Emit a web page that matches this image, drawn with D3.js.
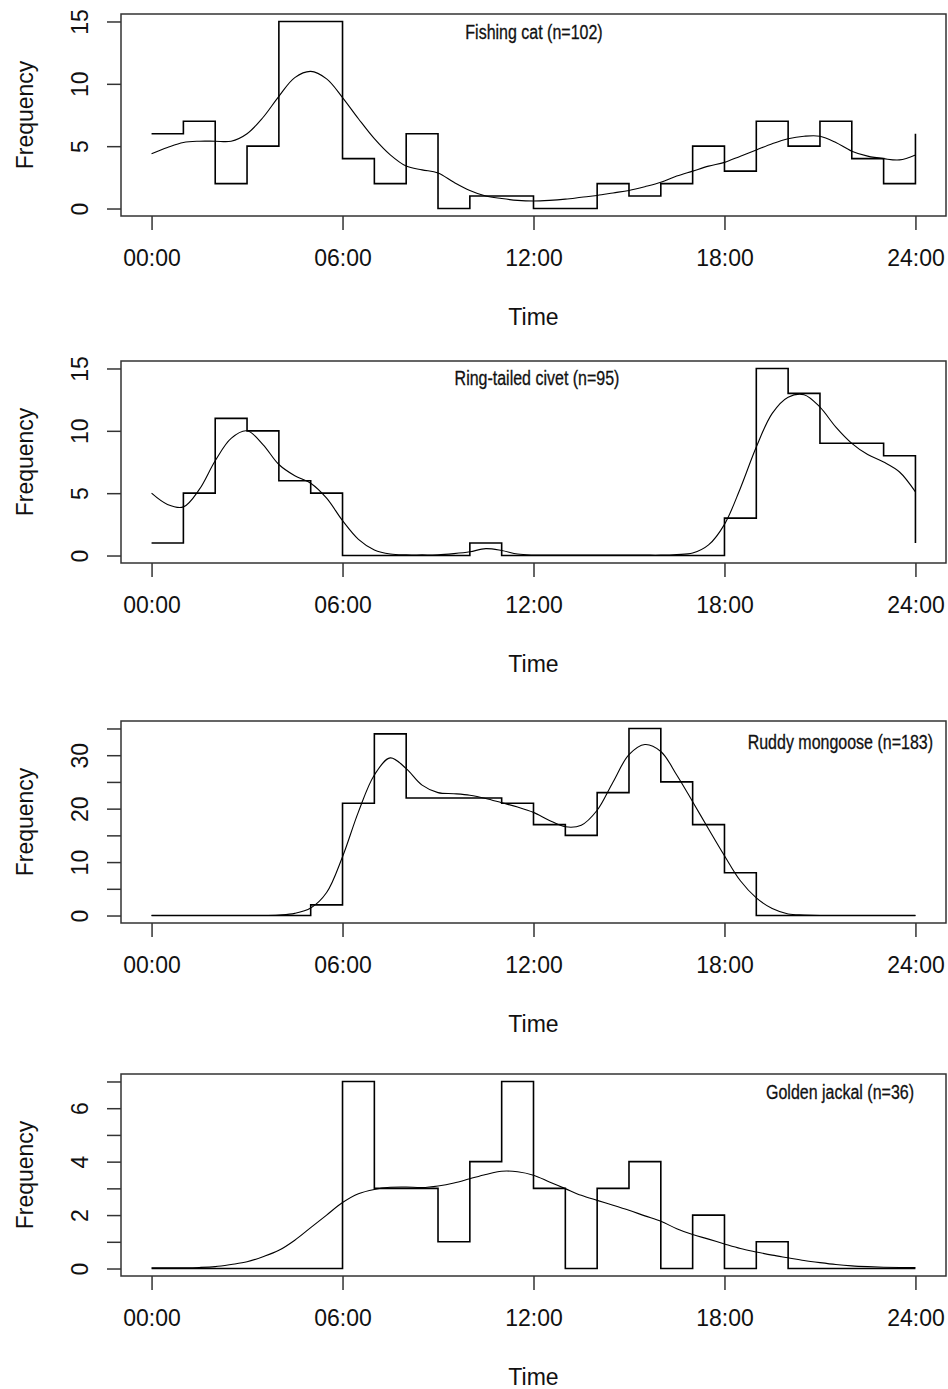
<!DOCTYPE html>
<html>
<head>
<meta charset="utf-8">
<script src="https://cdn.jsdelivr.net/npm/d3@7"></script>
<style>
  body { margin:0; background:#fff; }
  svg text { fill:#111; font-family:"Liberation Sans", Arial, sans-serif; }
</style>
</head>
<body>
<script>
// hourly bins 0..23 (step line, last step repeats the first bin at 24:00)
var fishingCat = [6,7,2,5,15,15,4,2,6,0,1,1,0,0,2,1,2,5,3,7,5,7,4,2];
var ringTailed = [1,5,11,10,6,5,0,0,0,0,1,0,0,0,0,0,0,0,3,15,13,9,9,8];
var ruddyMongoose = [0,0,0,0,0,2,21,34,22,22,22,21,17,15,23,35,25,17,8,0,0,0,0,0];
var goldenJackal = [0,0,0,0,0,0,7,3,3,1,4,7,3,0,3,4,0,2,0,1,0,0,0,0];

// smoothed curves, read every half hour from 00:00 to 24:00
var fishingCatCurve = [4.4,4.9,5.3,5.4,5.4,5.4,6.0,7.3,9.0,10.5,11.0,10.4,8.9,7.2,5.6,4.3,3.4,3.1,2.85,2.1,1.45,1.0,0.8,0.65,
  0.6,0.65,0.75,0.9,1.05,1.25,1.45,1.75,2.1,2.6,3.0,3.4,3.7,4.2,4.7,5.2,5.6,5.8,5.8,5.3,4.6,4.2,4.0,3.9,4.3];
var ringTailedCurve = [5.0,4.1,3.9,5.3,7.6,9.4,10.0,8.9,7.3,6.4,5.8,4.6,2.8,1.3,0.45,0.12,0.05,0.05,0.05,0.15,0.3,0.55,0.4,0.12,
  0.04,0.03,0.03,0.03,0.03,0.03,0.03,0.03,0.03,0.08,0.2,0.85,2.5,5.4,8.7,11.4,12.7,12.9,11.9,10.3,9.0,8.1,7.5,6.7,5.1];
var ruddyMongooseCurve = [0,0,0,0,0,0,0,0,0.1,0.4,1.4,4.3,11.0,19.4,26.3,29.5,27.5,24.4,23.0,22.8,22.5,21.9,21.1,20.3,
  19.3,17.8,16.6,16.9,19.7,25.0,30.1,32.0,30.7,26.3,21.3,16.2,11.2,6.5,3.3,1.3,0.3,0.1,0,0,0,0,0,0,0];
var goldenJackalCurve = [0.03,0.03,0.03,0.04,0.07,0.15,0.25,0.44,0.68,1.06,1.53,2.0,2.47,2.8,2.96,3.04,3.05,3.03,3.09,3.2,3.36,3.52,3.64,3.62,
  3.49,3.24,2.99,2.74,2.55,2.37,2.18,1.97,1.77,1.49,1.27,1.1,0.92,0.75,0.62,0.5,0.4,0.3,0.22,0.15,0.1,0.07,0.05,0.04,0.04];

var titles = ["Fishing cat (n=102)", "Ring-tailed civet (n=95)", "Ruddy mongoose (n=183)", "Golden jackal (n=36)"];
var xTicks = [0,6,12,18,24];
var xTickLabels = ["00:00","06:00","12:00","18:00","24:00"];
var yTicks = [[0,5,10,15],[0,5,10,15],[0,5,10,15,20,25,30,35],[0,1,2,3,4,5,6,7]];
var yTickLabels = [["0","5","10","15"],["0","5","10","15"],["0","","10","","20","","30",""],["0","","2","","4","","6",""]];
var yMax = [15,15,35,7];

var width = 948, height = 1389;
var margin = {left:121, right:2};
var panelTop = [14,361,721,1074];
var panelH = 202;
// title placement: [x, anchor, dy from top]
var titlePos = [[534,"middle",25],[537,"middle",24],[933,"end",28],[914,"end",25]];

var bins = [fishingCat, ringTailed, ruddyMongoose, goldenJackal];
var curves = [fishingCatCurve, ringTailedCurve, ruddyMongooseCurve, goldenJackalCurve];

var svg = d3.select("body").append("svg").attr("width",width).attr("height",height);

// R style: 4% padding on both sides of the data range
var x = d3.scaleLinear().domain([-0.96,24.96]).range([margin.left,width-margin.right]);

bins.forEach(function(b,i){
  var top = panelTop[i], bottom = top+panelH;
  var pad = yMax[i]*0.04;
  var y = d3.scaleLinear().domain([-pad,yMax[i]+pad]).range([bottom,top]);
  var g = svg.append("g");

  var stepData = b.map(function(v,h){ return [h,v]; }).concat([[24,b[0]]]);
  var step = d3.line().curve(d3.curveStepAfter)
      .x(function(d){ return x(d[0]); })
      .y(function(d){ return y(d[1]); });
  g.append("path").attr("d",step(stepData))
    .attr("fill","none").attr("stroke","#000").attr("stroke-width",1.6);

  var cl = d3.line().curve(d3.curveCatmullRom)
      .x(function(d,k){ return x(k*0.5); })
      .y(function(d){ return y(d); });
  g.append("path").attr("d",cl(curves[i]))
    .attr("fill","none").attr("stroke","#000").attr("stroke-width",1.1);

  // box
  g.append("rect").attr("x",margin.left).attr("y",top)
    .attr("width",width-margin.right-margin.left).attr("height",panelH)
    .attr("fill","none").attr("stroke","#333").attr("stroke-width",1.5);

  // x axis
  var xAxis = d3.axisBottom(x).tickValues(xTicks)
      .tickFormat(function(d,k){ return xTickLabels[k]; })
      .tickSize(14).tickPadding(20);
  var xa = g.append("g").attr("transform","translate(0,"+bottom+")").call(xAxis);
  xa.select(".domain").remove();
  xa.selectAll("line").attr("stroke","#333").attr("stroke-width",1.5);
  xa.selectAll("text").attr("font-size",23).attr("font-family","Liberation Sans, Arial, sans-serif").attr("fill","#111");

  // y axis
  var yAxis = d3.axisLeft(y).tickValues(yTicks[i])
      .tickFormat(function(d,k){ return yTickLabels[i][k]; })
      .tickSize(14).tickPadding(0);
  var ya = g.append("g").attr("transform","translate("+margin.left+",0)").call(yAxis);
  ya.select(".domain").remove();
  ya.selectAll("line").attr("stroke","#333").attr("stroke-width",1.5);
  ya.selectAll("text")
    .attr("font-size",23).attr("font-family","Liberation Sans, Arial, sans-serif").attr("fill","#111")
    .attr("x",null).attr("dy",null)
    .attr("text-anchor","middle")
    .attr("transform","translate(-33,0) rotate(-90)");

  g.append("text").attr("x",x(12)).attr("y",bottom+109)
    .attr("text-anchor","middle").attr("font-size",23).text("Time");

  g.append("text").attr("transform","translate(33,"+(top+panelH/2)+") rotate(-90)")
    .attr("text-anchor","middle").attr("font-size",23).text("Frequency");

  // narrow title: Liberation Sans squeezed horizontally
  g.append("text")
    .attr("transform","translate("+titlePos[i][0]+","+(top+titlePos[i][2])+") scale(0.82,1)")
    .attr("text-anchor",titlePos[i][1]).attr("font-size",19.5)
    .attr("stroke","#111").attr("stroke-width",0.3)
    .text(titles[i]);
});
</script>
</body>
</html>
